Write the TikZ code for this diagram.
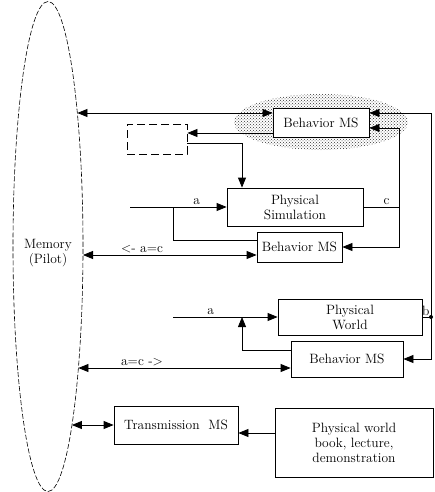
\documentclass[tikz,border=0pt]{standalone}
\usetikzlibrary{arrows.meta,shapes.geometric,patterns}

\begin{document}
\begin{tikzpicture}[x=1pt,y=-1pt,font=\fontsize{13.5}{15}\selectfont,
    line width=0.8pt,
    box/.style={rectangle,draw,fill=white,inner sep=0pt,align=center},
    lbl/.style={above,inner sep=2pt},
    >={Triangle[length=10pt,width=8pt]}]
  \useasboundingbox (0,0) rectangle (435,492);
  % memory
  \node[ellipse,draw,dash pattern=on 5pt off 2pt,line width=0.6pt,
    minimum width=70pt,minimum height=490pt,inner sep=0pt]
    (mem) at (48,246.5) {};
  \node[align=center] (memtxt) at ([yshift=-7pt]mem.center) {Memory\\(Pilot)};
  % dotted cloud round the upper behaviour
  \fill[pattern=crosshatch dots,pattern color=black!80] (321,122) ellipse (87pt and 28pt);
  \node[box,minimum width=96pt,minimum height=29pt] (bmsA) at (321,122.5) {Behavior MS};
  \node[box,dash pattern=on 8pt off 4pt,minimum width=60pt,minimum height=30pt] (dash) at (157,139) {};
  \node[box,minimum width=136pt,minimum height=38pt] (sim) at (295,207) {Physical\\Simulation};
  \node[box,minimum width=85pt,minimum height=30pt] (bmsB) at (299.5,247) {Behavior MS};
  \node[box,minimum width=144pt,minimum height=36pt] (world) at (350,317) {Physical\\World};
  \node[box,minimum width=112pt,minimum height=36pt] (bmsC) at (347,359) {Behavior MS};
  \node[box,minimum width=124pt,minimum height=38pt] (trans) at (176,425) {Transmission\ \ MS};
  \node[box,minimum width=158pt,minimum height=69pt] (src) at (354,442.5) {Physical world\\book, lecture,\\demonstration};

  % points on the memory border and routing levels
  \coordinate (m1) at (77.4,113);
  \coordinate (m2) at (83,255);
  \coordinate (m3) at (78.4,368);
  \coordinate (m4) at (71.9,425);
  \coordinate (lvlA) at (0,133);
  \coordinate (lvlB) at (0,240);
  \coordinate (lvlC) at (0,128);
  \coordinate (lvlE) at (0,350);
  \coordinate (lvlF) at (0,433);
  \coordinate (j1) at (242,143);
  \coordinate (jB) at (242,317);
  \coordinate (inA) at (130,207);
  \coordinate (brA) at (173,207);
  \coordinate (inB) at (173,317);
  \coordinate (rc) at (399,0);
  \coordinate (ro) at (431,0);

  % simulation loop
  \draw[<->] (m1) -- (m1 -| bmsA.west);
  \draw[->] (bmsA.west |- lvlA) -- (dash.east |- lvlA);
  \draw[->] (dash.east |- j1) -| (j1 |- sim.north);
  \draw[->] (inA) -- node[lbl,pos=0.69] {a} (sim.west);
  \draw (brA) |- (bmsB.west |- lvlB);
  \draw (sim.east) -- node[lbl,pos=0.65] {c} (sim.east -| rc);
  \draw[->] (sim.east -| rc) |- (bmsA.east |- lvlC);
  \draw[->] (sim.east -| rc) |- (bmsB.east);
  \draw[<->] (m2) -- node[lbl,pos=0.34] {\textless- a=c} (m2 -| bmsB.west);

  % real world loop
  \draw[->] (inB) -- node[lbl,pos=0.36] {a} (world.west);
  \draw[->] (bmsC.west |- lvlE) -| (jB);
  \draw (world.east) -- node[lbl,inner sep=1pt,pos=0.4] {b} (world.east -| ro);
  \fill (world.east -| ro) circle (2pt);
  \draw[->] (world.east -| ro) |- (bmsA.east |- m1);
  \draw[->] (world.east -| ro) |- (bmsC.east);
  \draw[<->] (m3) -- node[lbl,pos=0.3] {a=c -\textgreater} (m3 -| bmsC.west);

  % transmission
  \draw[<->] (m4) -- (trans.west);
  \draw[->] (src.west |- lvlF) -- (trans.east |- lvlF);
\end{tikzpicture}
\end{document}
